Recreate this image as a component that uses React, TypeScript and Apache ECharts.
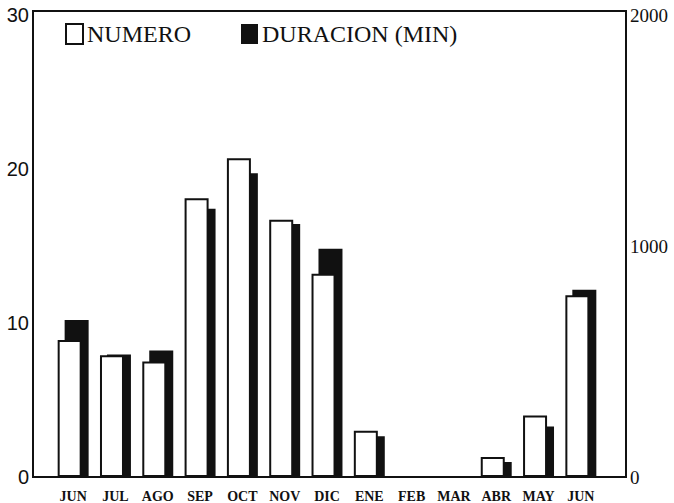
import React, { useEffect, useRef } from "react";
import * as echarts from "echarts";

const months = ["JUN", "JUL", "AGO", "SEP", "OCT", "NOV", "DIC", "ENE", "FEB", "MAR", "ABR", "MAY", "JUN"];
const numero = [8.9, 7.9, 7.5, 18.1, 20.7, 16.7, 13.2, 3.0, 0, 0, 1.3, 4.0, 11.8];
const duracion = [680, 530, 548, 1161, 1315, 1095, 988, 176, 0, 0, 65, 219, 811];
const leftTicks = { min: 0, max: 30, interval: 10 };
const rightTicks = { min: 0, max: 2000, interval: 1000 };

export default function App() {
  const ref = useRef<HTMLDivElement>(null);
  useEffect(() => {
    if (!ref.current) return;
    const chart = echarts.init(ref.current, null, { renderer: "svg" });
    chart.setOption({
      animation: false,
      backgroundColor: "#ffffff",
      grid: { left: 52, right: 72, top: 15, bottom: 26, containLabel: false },
      legend: {
        left: 65,
        top: 22,
        padding: 0,
        icon: "rect",
        itemWidth: 17,
        itemHeight: 20,
        itemGap: 50,
        data: ["NUMERO", "DURACION (MIN)"],
        textStyle: { fontFamily: "Liberation Serif", fontSize: 24, color: "#111", padding: [0, 0, 0, -1] },
      },
      xAxis: {
        type: "category",
        data: months,
        axisLine: { show: false },
        axisTick: { show: false },
        axisLabel: {
          interval: 0,
          margin: 12,
          fontFamily: "Liberation Serif",
          fontSize: 14,
          fontWeight: "bold",
          color: "#111",
        },
      },
      yAxis: [
        {
          type: "value",
          position: "left",
          offset: 19,
          ...leftTicks,
          axisLine: { show: false },
          axisTick: { show: false },
          splitLine: { show: false },
          axisLabel: { margin: 4, fontFamily: "Liberation Sans", fontSize: 20, color: "#111" },
        },
        {
          type: "value",
          position: "right",
          offset: 24,
          ...rightTicks,
          axisLine: { show: false },
          axisTick: { show: false },
          splitLine: { show: false },
          axisLabel: {
            margin: 4,
            fontFamily: "Liberation Serif",
            fontSize: 19,
            color: "#111",
            formatter: (v: number) => String(v),
          },
        },
      ],
      graphic: [
        {
          type: "rect",
          z: 10,
          shape: { x: 33, y: 11, width: 593, height: 466 },
          style: { fill: "none", stroke: "#111", lineWidth: 2 },
        },
      ],
      series: [
        {
          name: "NUMERO",
          type: "bar",
          yAxisIndex: 0,
          data: numero,
          barWidth: 24,
          barGap: "-71%",
          z: 3,
          itemStyle: { color: "#ffffff", borderColor: "#111", borderWidth: 2 },
        },
        {
          name: "DURACION (MIN)",
          type: "bar",
          yAxisIndex: 1,
          data: duracion,
          barWidth: 24,
          z: 2,
          itemStyle: { color: "#111" },
        },
      ],
    });
    return () => chart.dispose();
  }, []);
  return <div ref={ref} style={{ width: 674, height: 503, position: "absolute", left: 0, top: 0 }} />;
}
